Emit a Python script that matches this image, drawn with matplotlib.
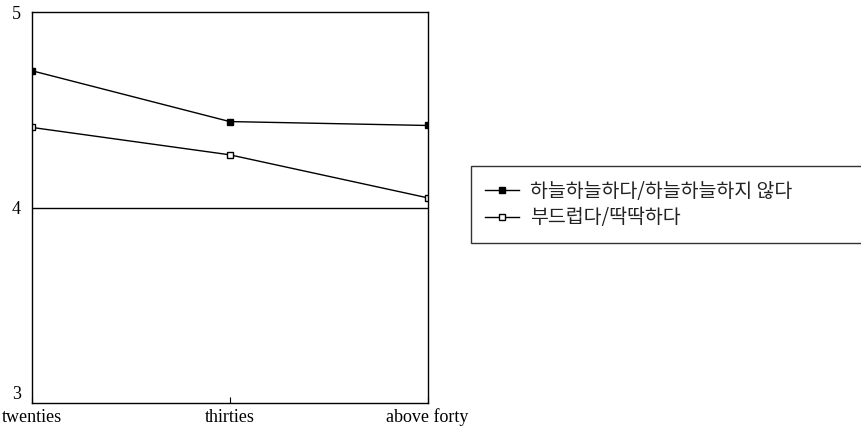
import numpy as np
import matplotlib
matplotlib.use("Agg")
import matplotlib.pyplot as plt

# age groups and mean scores
groups = ['twenties', 'thirties', 'above forty']
airy = [4.70, 4.44, 4.42]      # 하늘하늘하다/하늘하늘하지 않다
soft = [4.41, 4.27, 4.05]      # 부드럽다/딱딱하다
labels = ['하늘하늘하다/하늘하늘하지 않다', '부드럽다/딱딱하다']

fig = plt.figure(figsize=(8.62, 4.32), dpi=100)
ax = fig.add_axes([0.037, 0.067, 0.459, 0.905])

x = np.arange(len(groups))
l1, = ax.plot(x, airy, color='black', lw=1, marker='s', ms=5,
              mfc='black', mec='black')
l2, = ax.plot(x, soft, color='black', lw=1, marker='s', ms=5,
              mfc='white', mec='black')

ax.axhline(4, color='black', lw=1)
ax.set_xlim(0, 2)
ax.set_ylim(3, 5)
ax.set_yticks([3, 4, 5])
ax.set_xticks(x)
ax.set_xticklabels(groups, family='Liberation Serif', fontsize=13)
ax.set_yticklabels(['3', '4', '5'], family='Liberation Serif', fontsize=13)
ax.tick_params(axis='y', length=0, pad=8)
ax.tick_params(axis='x', direction='in', length=4, pad=4)
# lift the "3" a little so it sits above the axis line like the original
ax.get_yticklabels()[0].set_verticalalignment('bottom')
for s in ax.spines.values():
    s.set_linewidth(1)

leg = fig.legend([l1, l2], labels, loc='lower left',
                 bbox_to_anchor=(0.546, 0.4375, 0.5, 0.1667), mode='expand',
                 prop={'family': ['Noto Sans CJK KR', 'DejaVu Sans'], 'size': 14},
                 frameon=True, fancybox=False, edgecolor='black',
                 handlelength=1.75, handletextpad=0.55, borderaxespad=0,
                 borderpad=0.75, labelspacing=0.3)
leg.get_frame().set_linewidth(1)
for t in leg.get_texts():
    t.set_color('#222222')

fig.savefig('out.png', dpi=100)
